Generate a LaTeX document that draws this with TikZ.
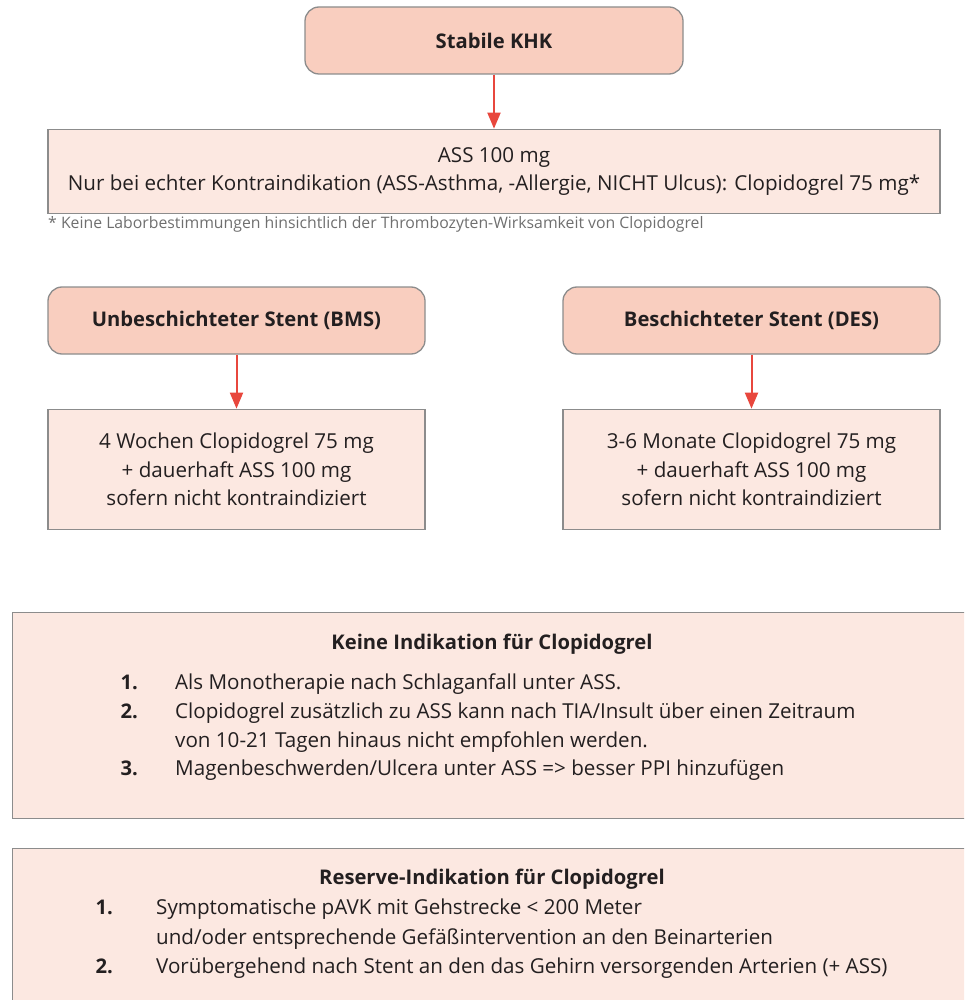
\documentclass[tikz,border=0pt]{standalone}
\usepackage{fontspec}
\setmainfont{Open Sans}
\usepackage{xcolor}
\usetikzlibrary{arrows.meta,positioning}

\definecolor{boxdark}{HTML}{F9CEBF}
\definecolor{boxlight}{HTML}{FCE8E1}
\definecolor{framegray}{HTML}{8C8C8C}
\definecolor{arrowred}{HTML}{E8473D}
\definecolor{textdark}{HTML}{231F20}
\definecolor{notegray}{HTML}{6F6F6F}

\begin{document}
\begin{tikzpicture}[
      x=1pt, y=-1pt,
      headbox/.style={
         rounded corners=14pt,
         draw=framegray,
         fill=boxdark,
         line width=1.3pt,
         inner sep=0pt,
         minimum height=67pt,
         text=textdark,
         font=\fontsize{20.2}{28.5}\selectfont\bfseries},
      infobox/.style={
         draw=framegray,
         fill=boxlight,
         line width=1.3pt,
         inner sep=0pt,
         align=center,
         text=textdark,
         font=\fontsize{20.6}{28.5}\selectfont},
      listtitle/.style={anchor=base, text=textdark, inner sep=0pt,
         font=\fontsize{20.2}{28.5}\selectfont\bfseries},
      listnum/.style={anchor=base east, text=textdark, inner sep=0pt,
         font=\fontsize{20.2}{28.5}\selectfont\bfseries},
      listitem/.style={anchor=base west, text=textdark, inner sep=0pt,
         font=\fontsize{20.6}{28.5}\selectfont},
      myarrow/.style={-{Triangle[length=16pt,width=13pt]}, draw=arrowred,
         line width=2pt},
      node distance=54pt
      ]
\clip (0,0) rectangle (964,1000);

% upper part
\node[headbox, minimum width=378pt] (khk) at (494,40.5) {Stabile KHK};

\node[infobox, below=of khk, minimum width=892pt, minimum height=84pt] (ass)
   {ASS 100 mg\\Nur bei echter Kontraindikation (ASS-Asthma, -Allergie, NICHT Ulcus): Clopidogrel 75 mg*};

\node[anchor=north west, inner sep=0pt, text=notegray,
      font=\fontsize{15.8}{19}\selectfont] (note) at (48,216)
   {* Keine Laborbestimmungen hinsichtlich der Thrombozyten-Wirksamkeit von Clopidogrel};

% stents
\node[headbox, minimum width=377pt] (bms) at (236.5,320.5) {Unbeschichteter Stent (BMS)};
\node[headbox, minimum width=377pt] (des) at (751.5,320.5) {Beschichteter Stent (DES)};

\node[infobox, below=of bms, minimum width=377pt, minimum height=120pt] (bmsther)
   {4 Wochen Clopidogrel 75 mg\\+ dauerhaft ASS 100 mg\\sofern nicht kontraindiziert};
\node[infobox, below=of des, minimum width=377pt, minimum height=120pt] (desther)
   {3-6 Monate Clopidogrel 75 mg\\+ dauerhaft ASS 100 mg\\sofern nicht kontraindiziert};

\foreach \i/\j in {% start node/end node
      khk/ass,bms/bmsther,des/desther}
       \draw[myarrow] (\i) -- (\j);

% keine Indikation
\node[infobox, anchor=north west, minimum width=1000pt, minimum height=206pt] (keine) at (12,612) {};
\node[listtitle] (keinetitle) at (492,649) {Keine Indikation für Clopidogrel};
\node[listnum] (kn1) at (138,689) {1.};
\node[listitem] (ki1) at (175,689) {Als Monotherapie nach Schlaganfall unter ASS.};
\node[listnum] (kn2) at (138,718) {2.};
\node[listitem] (ki2) at (175,718) {Clopidogrel zusätzlich zu ASS kann nach TIA/Insult über einen Zeitraum};
\node[listitem] (ki2b) at (175,747) {von 10-21 Tagen hinaus nicht empfohlen werden.};
\node[listnum] (kn3) at (138,775) {3.};
\node[listitem] (ki3) at (175,775) {Magenbeschwerden/Ulcera unter ASS => besser PPI hinzufügen};

% Reserve-Indikation
\node[infobox, anchor=north west, minimum width=1000pt, minimum height=200pt] (reserve) at (12,848) {};
\node[listtitle] (restitle) at (492,884) {Reserve-Indikation für Clopidogrel};
\node[listnum] (rn1) at (113,914) {1.};
\node[listitem] (ri1) at (156,914) {Symptomatische pAVK mit Gehstrecke < 200 Meter};
\node[listitem] (ri1b) at (156,944) {und/oder entsprechende Gefäßintervention an den Beinarterien};
\node[listnum] (rn2) at (113,973) {2.};
\node[listitem] (ri2) at (156,973) {Vorübergehend nach Stent an den das Gehirn versorgenden Arterien (+ ASS)};

\end{tikzpicture}
\end{document}
